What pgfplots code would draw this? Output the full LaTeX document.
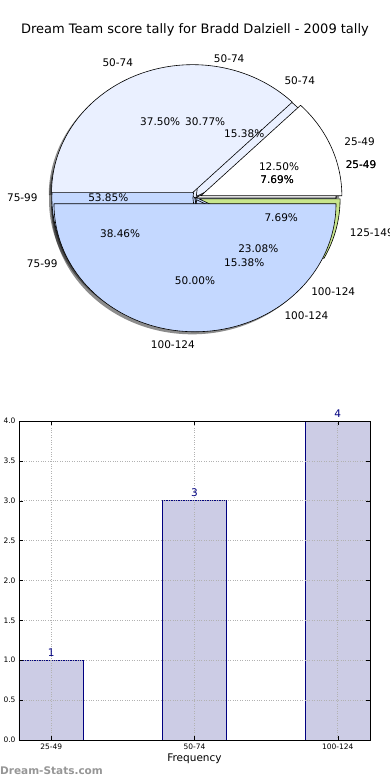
\documentclass[border=0pt]{standalone}
\usepackage{fontspec}
\setmainfont{DejaVu Sans}
\usepackage{pgfplots}
\pgfplotsset{compat=1.18}
\definecolor{pieLight}{RGB}{234,240,255}
\definecolor{pieBlue}{RGB}{196,216,255}
\definecolor{pieGreen}{RGB}{200,230,140}
\definecolor{barFill}{RGB}{204,204,229}
\definecolor{barEdge}{RGB}{0,0,128}
\definecolor{wmGray}{RGB}{150,150,150}
\newcommand{\pielab}{\fontsize{10.5}{12}\selectfont}
% #1 explode, #2 start angle, #3 end angle, #4 colour
\newcommand{\Wshadow}[4]{%
  \fill[black, opacity=0.45] (axis cs:{#1*cos((#2+#3)/2)-0.02},{#1*sin((#2+#3)/2)-0.02}) -- (axis cs:{#1*cos((#2+#3)/2)-0.02+cos(#2)},{#1*sin((#2+#3)/2)-0.02+sin(#2)}) arc[start angle=#2, end angle=#3, x radius=141pt, y radius=128pt] -- cycle;}
\newcommand{\Wfill}[4]{%
  \filldraw[fill=#4, draw=black, line width=0.6pt, line join=round] (axis cs:{#1*cos((#2+#3)/2)},{#1*sin((#2+#3)/2)}) -- (axis cs:{#1*cos((#2+#3)/2)+cos(#2)},{#1*sin((#2+#3)/2)+sin(#2)}) arc[start angle=#2, end angle=#3, x radius=141pt, y radius=128pt] -- cycle;}
% #1 explode, #2 a1, #3 a2, #4 label, #5 percent, #6 anchor
\newcommand{\Wlabel}[6]{%
  \node[font=\pielab, anchor=#6, inner sep=0pt] at (axis cs:{(#1+1.1)*cos((#2+#3)/2)},{(#1+1.1)*sin((#2+#3)/2)}) {#4};
  \node[font=\pielab, inner sep=0pt] at (axis cs:{(#1+0.6)*cos((#2+#3)/2)},{(#1+0.6)*sin((#2+#3)/2)}) {#5};}
% the three overlaid pies: C (1,4,5,3 of 13), B (1,2,7,2,1 of 13), A (1,3,4 of 8)
\newcommand{\allwedges}[1]{%
  #1{0}{0}{27.692}{white}
  #1{0}{27.692}{138.462}{pieLight}
  #1{0}{138.462}{276.923}{pieBlue}
  #1{0}{276.923}{360}{pieBlue}
  #1{0}{0}{27.692}{white}
  #1{0.015}{27.692}{83.077}{pieLight}
  #1{0.015}{83.077}{276.923}{pieBlue}
  #1{0.015}{276.923}{332.308}{pieBlue}
  #1{0.03}{332.308}{360}{pieGreen}
  #1{0.045}{0}{45}{white}
  #1{0.045}{45}{180}{pieLight}
  #1{0.045}{180}{360}{pieBlue}
}
\begin{document}
\begin{tikzpicture}
\path[use as bounding box] (0pt,0pt) rectangle (390pt,780pt);
\node[font=\fontsize{13}{15}\selectfont] at (195pt,750pt) {Dream Team score tally for Bradd Dalziell - 2009 tally};
\begin{axis}[at={(195pt,582pt)}, anchor=center, scale only axis,
  width=282pt, height=256pt, xmin=-1, xmax=1, ymin=-1, ymax=1,
  hide axis, clip=false]
  \allwedges{\Wshadow}
  \allwedges{\Wfill}
  \Wlabel{0}{0}{27.692}{25-49}{7.69\%}{west}
  \Wlabel{0}{27.692}{138.462}{50-74}{30.77\%}{west}
  \Wlabel{0}{138.462}{276.923}{75-99}{38.46\%}{east}
  \Wlabel{0}{276.923}{360}{100-124}{23.08\%}{west}
  \Wlabel{0}{0}{27.692}{25-49}{7.69\%}{west}
  \Wlabel{0.015}{27.692}{83.077}{50-74}{15.38\%}{west}
  \Wlabel{0.015}{83.077}{276.923}{75-99}{53.85\%}{east}
  \Wlabel{0.015}{276.923}{332.308}{100-124}{15.38\%}{west}
  \Wlabel{0.03}{332.308}{360}{125-149}{7.69\%}{west}
  \Wlabel{0.045}{0}{45}{25-49}{12.50\%}{west}
  \Wlabel{0.045}{45}{180}{50-74}{37.50\%}{east}
  \Wlabel{0.045}{180}{360}{100-124}{50.00\%}{east}
\end{axis}
\begin{axis}[at={(19pt,40pt)}, anchor=south west, scale only axis,
  width=351pt, height=319pt,
  xmin=-0.225, xmax=2.225, ymin=0, ymax=4,
  ybar, bar width=0.45,
  xtick={0,1,2}, xticklabels={25-49,50-74,100-124},
  ytick={0,0.5,1,1.5,2,2.5,3,3.5,4},
  yticklabel style={/pgf/number format/.cd, fixed, fixed zerofill, precision=1},
  /pgf/number format/assume math mode=true,
  tick label style={font=\fontsize{7.5}{9}\selectfont},
  tick align=inside, tick pos=both, major tick length=4pt,
  tick style={black, line width=0.5pt},
  grid=major, grid style={dotted, gray!60, line width=0.6pt},
  axis on top, axis line style={line width=0.8pt},
  xlabel={Frequency}, xlabel style={font=\fontsize{10.5}{12}\selectfont, inner sep=1pt},
  clip=false]
  \addplot[fill=barFill, draw=barEdge, line width=0.7pt,
    nodes near coords, nodes near coords style={font=\fontsize{10.5}{12}\selectfont, text=barEdge}]
    coordinates {(0,1) (1,3) (2,4)};
\end{axis}
\node[anchor=west, inner sep=0pt, font=\bfseries\fontsize{10.5}{12}\selectfont, text=wmGray] at (0pt,9pt) {Dream-Stats.com};
\end{tikzpicture}
\end{document}
